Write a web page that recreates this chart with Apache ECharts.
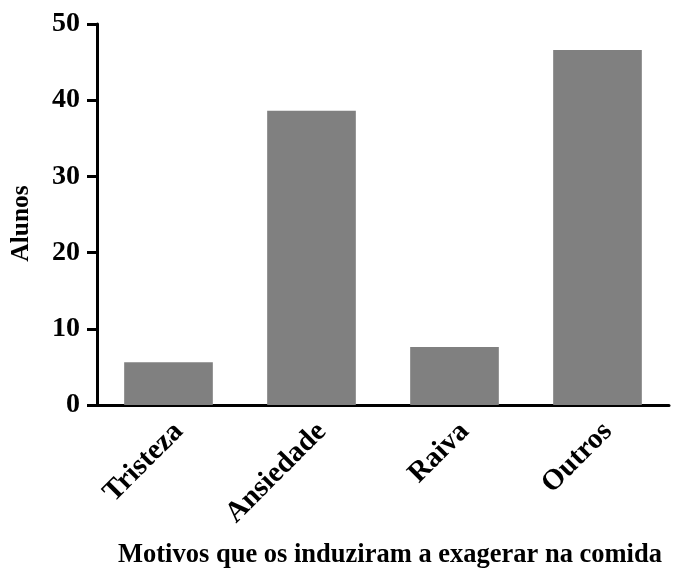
<!DOCTYPE html>
<html>
<head>
<meta charset="utf-8">
<script src="https://cdn.jsdelivr.net/npm/echarts@6/dist/echarts.min.js"></script>
<style>html,body{margin:0;padding:0;background:#fff}#c{width:688px;height:581px}</style>
</head>
<body>
<div id="c"></div>
<script>
const categories = ['Tristeza', 'Ansiedade', 'Raiva', 'Outros'];
const values = [5.6, 38.6, 7.6, 46.6];
const yTicks = [0, 10, 20, 30, 40, 50];

const chart = echarts.init(document.getElementById('c'), null, {renderer: 'canvas'});
const font = 'Liberation Serif';
chart.setOption({
  animation: false,
  grid: {left: 97, right: 19, top: 24, bottom: 176},
  xAxis: {
    type: 'category',
    data: categories,
    name: 'Motivos que os induziram a exagerar na comida',
    nameLocation: 'middle',
    nameGap: 137,
    nameTextStyle: {fontFamily: font, fontWeight: 'bold', fontSize: 26.5, color: '#000', padding: [0, 0, 0, 14]},
    axisLine: {lineStyle: {color: '#000', width: 3}},
    axisTick: {alignWithLabel: true, length: 11, lineStyle: {color: '#000', width: 3}},
    axisLabel: {rotate: 45, margin: 12, verticalAlign: 'top', fontFamily: font, fontWeight: 'bold', fontSize: 29, color: '#000'}
  },
  yAxis: {
    type: 'value',
    min: yTicks[0], max: yTicks[yTicks.length - 1], interval: 10,
    name: 'Alunos',
    nameLocation: 'middle',
    nameGap: 63,
    nameTextStyle: {fontFamily: font, fontWeight: 'bold', fontSize: 25.5, color: '#000', padding: [0, 18, 0, 0]},
    axisLine: {show: true, lineStyle: {color: '#000', width: 3}},
    axisTick: {show: true, length: 10, lineStyle: {color: '#000', width: 3}},
    axisLabel: {margin: 17, fontFamily: font, fontWeight: 'bold', fontSize: 28, color: '#000'},
    splitLine: {show: false}
  },
  series: [{
    type: 'bar',
    data: values,
    barCategoryGap: '38%',
    itemStyle: {color: '#808080'}
  }]
});
</script>
</body>
</html>
